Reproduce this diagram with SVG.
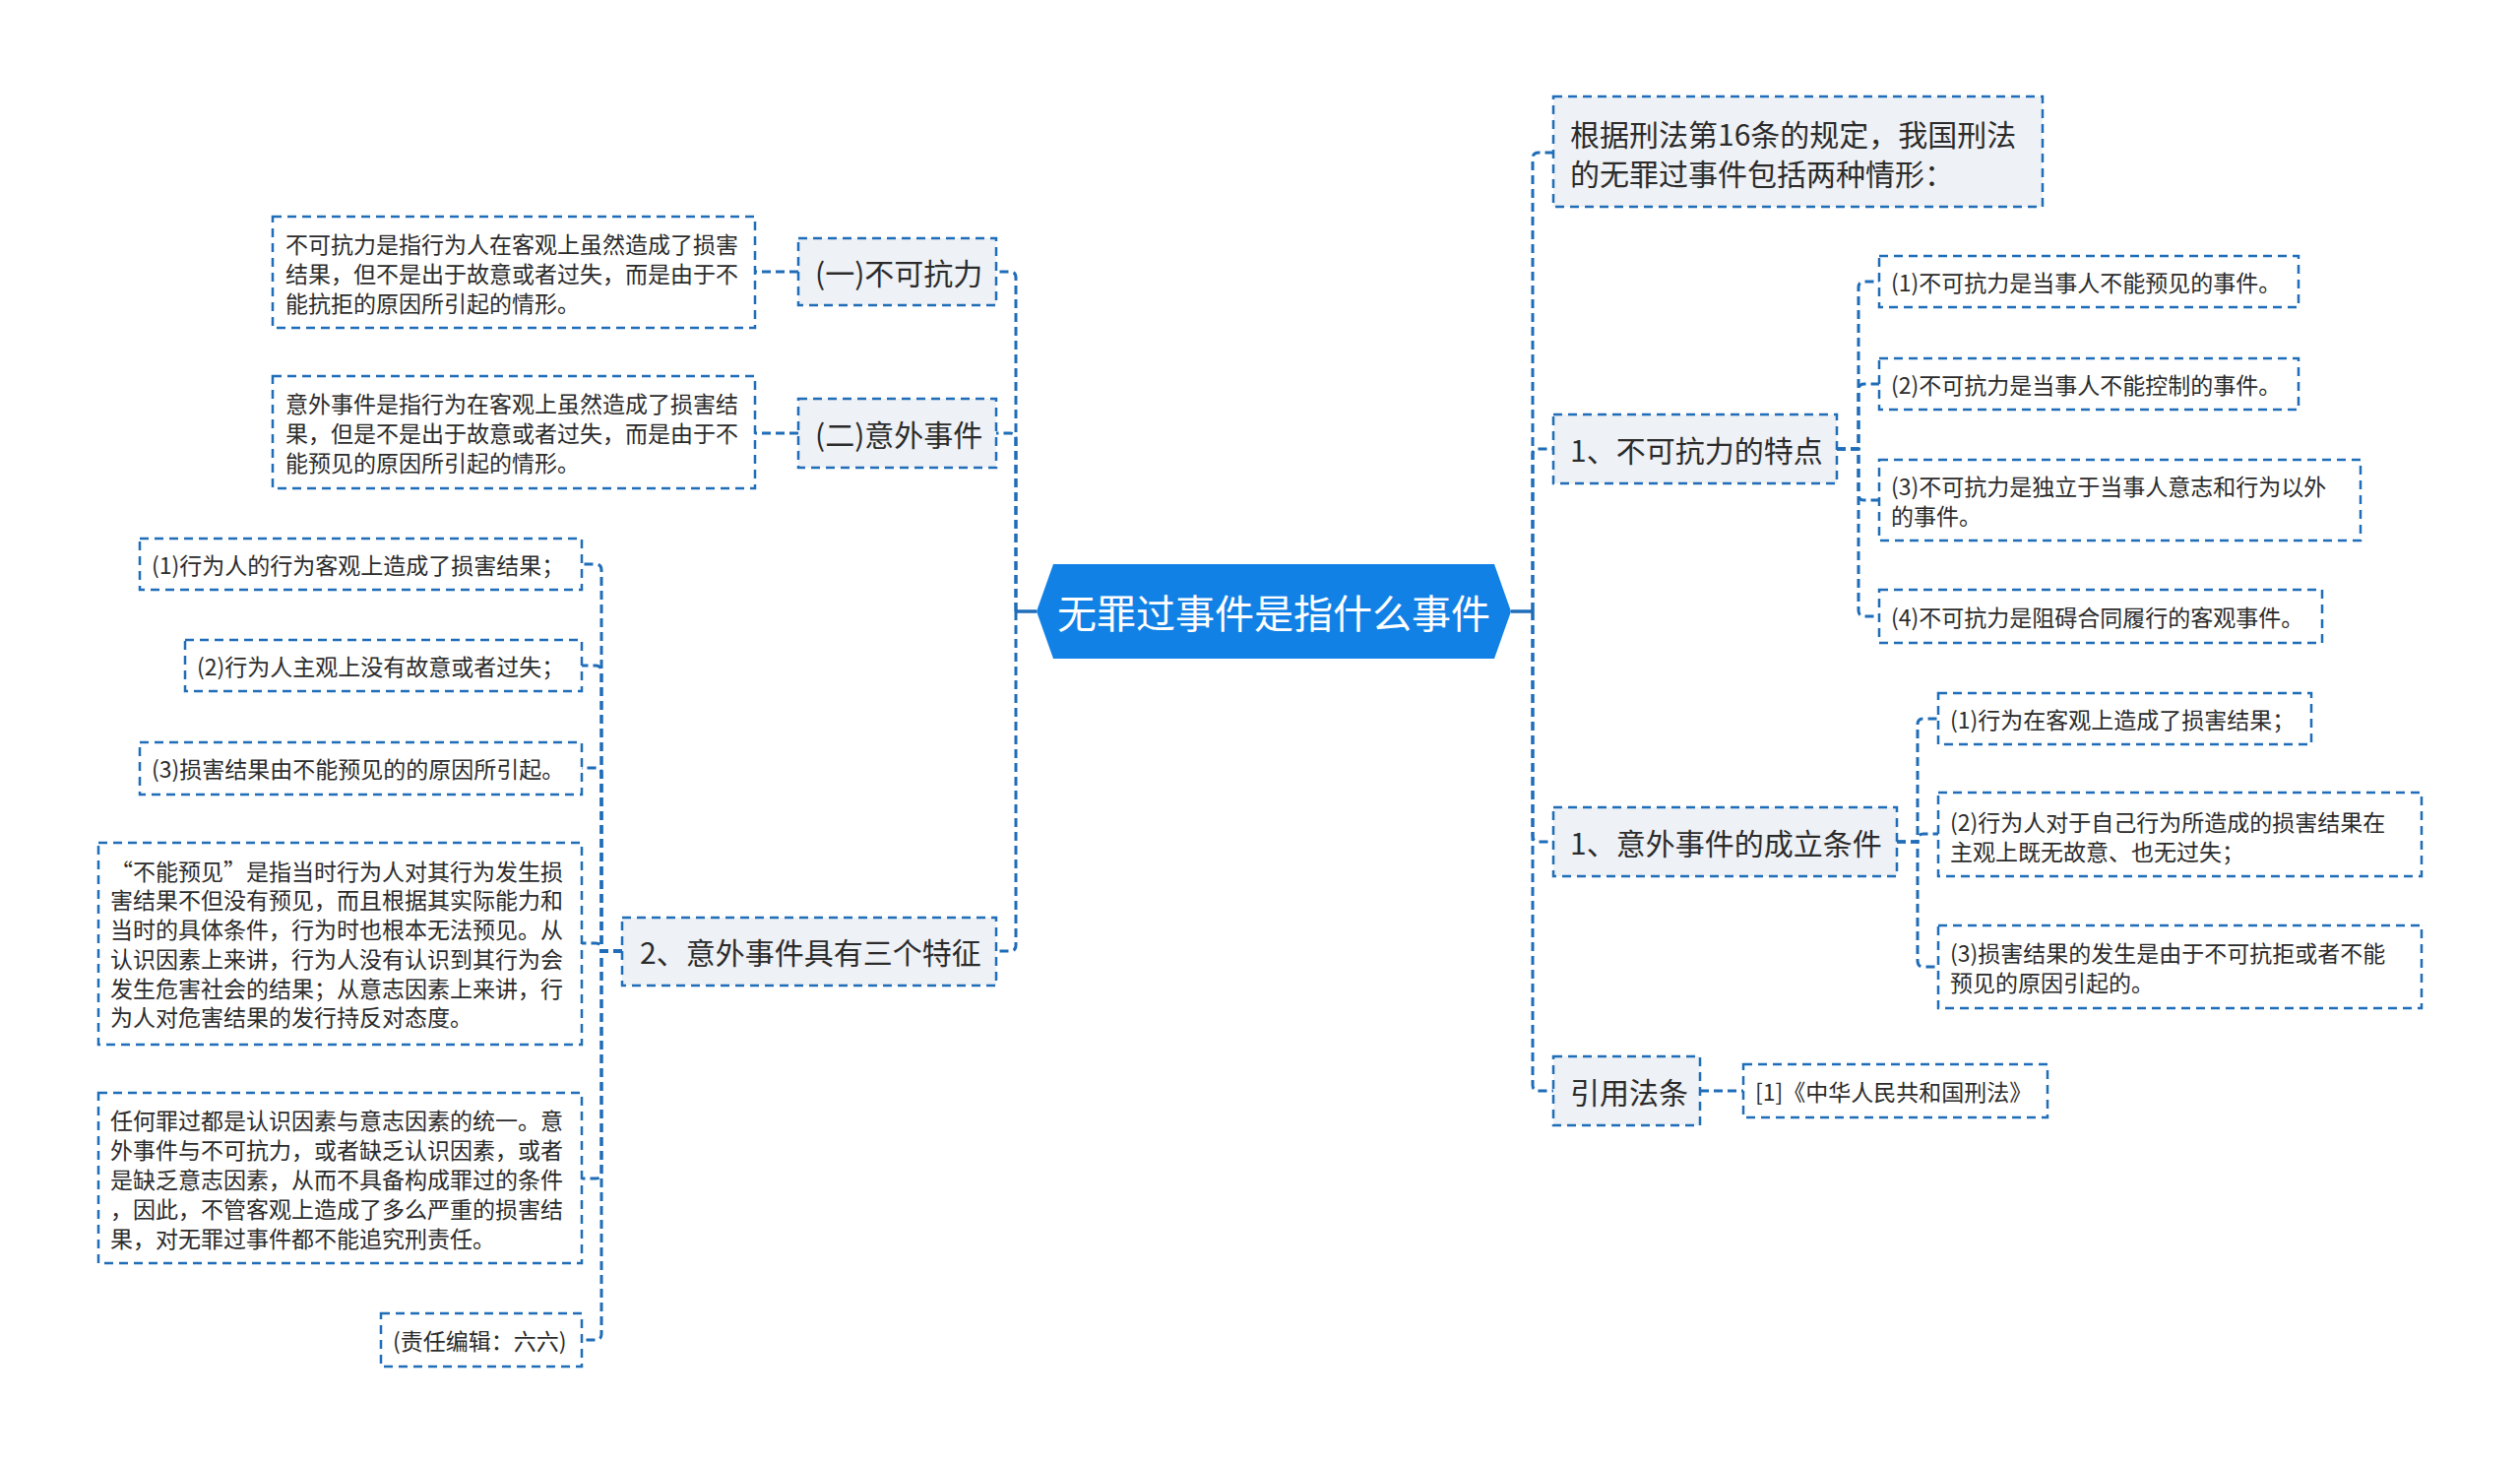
<svg xmlns="http://www.w3.org/2000/svg" width="2560" height="1487" viewBox="0 0 2560 1487">
<style>
text{font-family:"Noto Sans CJK SC","Noto Sans",sans-serif;fill:#2b2b2b;dominant-baseline:central}
.b1{fill:#eef1f5;stroke:#1f6db8;stroke-width:2.5;stroke-dasharray:9 6}
.b2{fill:#fff;stroke:#1f6db8;stroke-width:2.5;stroke-dasharray:9 6}
.t1{font-size:30px}
.t2{font-size:23px}
.c{fill:none;stroke:#1f6db8;stroke-width:3;stroke-dasharray:9 5}
.s{fill:none;stroke:#1f6db8;stroke-width:3.5}
</style>
<rect width="2560" height="1487" fill="#fff"/>
<g id="connectors">
<path class="s" d="M1053 621H1032M1535 621H1557"/>
<path class="c" d="M1032 621V282Q1032 276 1026 276H1012"/>
<path class="c" d="M1032 621V446Q1032 440 1026 440H1012"/>
<path class="c" d="M1032 621V960Q1032 966 1026 966H1012"/>
<path class="c" d="M811 276H767"/>
<path class="c" d="M811 440H767"/>
<path class="c" d="M632 966H611V579Q611 573 605 573H591"/>
<path class="c" d="M632 966H611V682Q611 676 605 676H591"/>
<path class="c" d="M632 966H611V786Q611 780 605 780H591"/>
<path class="c" d="M632 966H611V964Q611 958 605 958H591"/>
<path class="c" d="M632 966H611V1191Q611 1197 605 1197H591"/>
<path class="c" d="M632 966H611V1355Q611 1361 605 1361H591"/>
<path class="c" d="M1557 621V161Q1557 155 1563 155H1578"/>
<path class="c" d="M1557 621V462Q1557 456 1563 456H1578"/>
<path class="c" d="M1557 621V849Q1557 855 1563 855H1578"/>
<path class="c" d="M1557 621V1102Q1557 1108 1563 1108H1578"/>
<path class="c" d="M1866 456H1888V292Q1888 286 1894 286H1909"/>
<path class="c" d="M1866 456H1888V396Q1888 390 1894 390H1909"/>
<path class="c" d="M1866 456H1888V502Q1888 508 1894 508H1909"/>
<path class="c" d="M1866 456H1888V620Q1888 626 1894 626H1909"/>
<path class="c" d="M1927 855H1948V736Q1948 730 1954 730H1969"/>
<path class="c" d="M1927 855H1948V853Q1948 847 1954 847H1969"/>
<path class="c" d="M1927 855H1948V976Q1948 982 1954 982H1969"/>
<path class="c" d="M1727 1108H1771"/>
</g>
<g id="root">
<polygon points="1053,621 1070,573 1518,573 1535,621 1518,669 1070,669" fill="#1281e6"/>
<text x="1294" y="621" text-anchor="middle" style="font-size:40px;fill:#fff">无罪过事件是指什么事件</text>
</g>
<g id="n-bukekangli">
<rect class="b1" x="811" y="242" width="201" height="68"/>
<text class="t1" x="828" y="276">(一)不可抗力</text>
</g>
<g id="n-bukekangli-def">
<rect class="b2" x="277" y="220" width="490" height="113"/>
<text class="t2" x="290" y="247">不可抗力是指行为人在客观上虽然造成了损害</text>
<text class="t2" x="290" y="277">结果，但不是出于故意或者过失，而是由于不</text>
<text class="t2" x="290" y="307">能抗拒的原因所引起的情形。</text>
</g>
<g id="n-yiwai">
<rect class="b1" x="811" y="405" width="201" height="70"/>
<text class="t1" x="828" y="440">(二)意外事件</text>
</g>
<g id="n-yiwai-def">
<rect class="b2" x="277" y="382" width="490" height="114"/>
<text class="t2" x="290" y="409">意外事件是指行为在客观上虽然造成了损害结</text>
<text class="t2" x="290" y="439">果，但是不是出于故意或者过失，而是由于不</text>
<text class="t2" x="290" y="469">能预见的原因所引起的情形。</text>
</g>
<g id="n-sange">
<rect class="b1" x="632" y="932" width="380" height="69"/>
<text class="t1" x="650" y="966">2、意外事件具有三个特征</text>
</g>
<g id="n-sange-1">
<rect class="b2" x="142" y="547" width="449" height="52"/>
<text class="t2" x="154" y="573">(1)行为人的行为客观上造成了损害结果；</text>
</g>
<g id="n-sange-2">
<rect class="b2" x="188" y="650" width="403" height="52"/>
<text class="t2" x="200" y="676">(2)行为人主观上没有故意或者过失；</text>
</g>
<g id="n-sange-3">
<rect class="b2" x="142" y="754" width="449" height="53"/>
<text class="t2" x="154" y="780">(3)损害结果由不能预见的的原因所引起。</text>
</g>
<g id="n-sange-4">
<rect class="b2" x="100" y="856" width="491" height="205"/>
<text class="t2" x="112" y="884">“不能预见”是指当时行为人对其行为发生损</text>
<text class="t2" x="112" y="913">害结果不但没有预见，而且根据其实际能力和</text>
<text class="t2" x="112" y="943">当时的具体条件，行为时也根本无法预见。从</text>
<text class="t2" x="112" y="973">认识因素上来讲，行为人没有认识到其行为会</text>
<text class="t2" x="112" y="1003">发生危害社会的结果；从意志因素上来讲，行</text>
<text class="t2" x="112" y="1032">为人对危害结果的发行持反对态度。</text>
</g>
<g id="n-sange-5">
<rect class="b2" x="100" y="1110" width="491" height="173"/>
<text class="t2" x="112" y="1137">任何罪过都是认识因素与意志因素的统一。意</text>
<text class="t2" x="112" y="1167">外事件与不可抗力，或者缺乏认识因素，或者</text>
<text class="t2" x="112" y="1197">是缺乏意志因素，从而不具备构成罪过的条件</text>
<text class="t2" x="112" y="1227">，因此，不管客观上造成了多么严重的损害结</text>
<text class="t2" x="112" y="1257">果，对无罪过事件都不能追究刑责任。</text>
</g>
<g id="n-sange-6">
<rect class="b2" x="387" y="1334" width="204" height="54"/>
<text class="t2" x="399" y="1361">(责任编辑：六六)</text>
</g>
<g id="n-genju">
<rect class="b1" x="1578" y="98" width="497" height="112"/>
<text class="t1" x="1595" y="135">根据刑法第16条的规定，我国刑法</text>
<text class="t1" x="1595" y="175">的无罪过事件包括两种情形：</text>
</g>
<g id="n-tedian">
<rect class="b1" x="1578" y="421" width="288" height="70"/>
<text class="t1" x="1595" y="456">1、不可抗力的特点</text>
</g>
<g id="n-tedian-1">
<rect class="b2" x="1909" y="260" width="426" height="52"/>
<text class="t2" x="1921" y="286">(1)不可抗力是当事人不能预见的事件。</text>
</g>
<g id="n-tedian-2">
<rect class="b2" x="1909" y="364" width="426" height="52"/>
<text class="t2" x="1921" y="390">(2)不可抗力是当事人不能控制的事件。</text>
</g>
<g id="n-tedian-3">
<rect class="b2" x="1909" y="467" width="489" height="82"/>
<text class="t2" x="1921" y="493">(3)不可抗力是独立于当事人意志和行为以外</text>
<text class="t2" x="1921" y="523">的事件。</text>
</g>
<g id="n-tedian-4">
<rect class="b2" x="1909" y="599" width="450" height="54"/>
<text class="t2" x="1921" y="626">(4)不可抗力是阻碍合同履行的客观事件。</text>
</g>
<g id="n-tiaojian">
<rect class="b1" x="1578" y="820" width="349" height="70"/>
<text class="t1" x="1595" y="855">1、意外事件的成立条件</text>
</g>
<g id="n-tiaojian-1">
<rect class="b2" x="1969" y="704" width="379" height="52"/>
<text class="t2" x="1981" y="730">(1)行为在客观上造成了损害结果；</text>
</g>
<g id="n-tiaojian-2">
<rect class="b2" x="1969" y="805" width="491" height="85"/>
<text class="t2" x="1981" y="834">(2)行为人对于自己行为所造成的损害结果在</text>
<text class="t2" x="1981" y="864">主观上既无故意、也无过失；</text>
</g>
<g id="n-tiaojian-3">
<rect class="b2" x="1969" y="940" width="491" height="84"/>
<text class="t2" x="1981" y="967">(3)损害结果的发生是由于不可抗拒或者不能</text>
<text class="t2" x="1981" y="997">预见的原因引起的。</text>
</g>
<g id="n-fatiao">
<rect class="b1" x="1578" y="1073" width="149" height="70"/>
<text class="t1" x="1595" y="1108">引用法条</text>
</g>
<g id="n-fatiao-1">
<rect class="b2" x="1771" y="1081" width="309" height="54"/>
<text class="t2" x="1783" y="1108">[1]《中华人民共和国刑法》</text>
</g>
</svg>
